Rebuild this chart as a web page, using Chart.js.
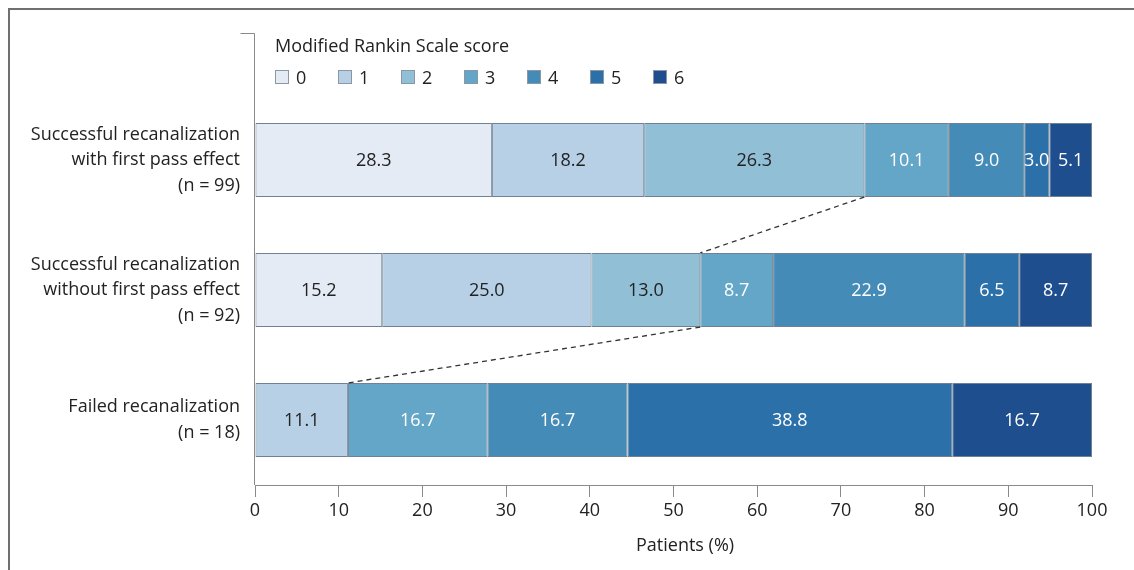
<!DOCTYPE html>
<html>
<head>
<meta charset="utf-8">
<script src="https://cdn.jsdelivr.net/npm/chart.js@4"></script>
<style>
  html, body { margin: 0; padding: 0; background: #fff; }
  body { width: 1134px; height: 570px; position: relative; overflow: hidden; font-family: "Open Sans", sans-serif; color: #222; }
  #frame { position: absolute; left: 8px; top: 8px; width: 1200px; height: 700px; border-left: 2px solid #707070; border-top: 2px solid #707070; }
  #chart-wrap { position: absolute; left: 0; top: 0; width: 1134px; height: 570px; }
  #legend { position: absolute; left: 275px; top: 32px; font-size: 18px; }
  #legend .title { height: 26px; line-height: 26px; }
  #legend .items { display: flex; margin-top: 7px; }
  #legend .item { width: 63px; display: flex; align-items: center; height: 24px; }
  #legend .box { width: 14px; height: 14px; border: 1px solid #8a98a6; margin-right: 7px; box-sizing: border-box; }
  #xtitle { position: absolute; left: 636px; top: 532px; font-size: 18px; }
</style>
</head>
<body>
<div id="frame"></div>
<div id="chart-wrap"><canvas id="chart" width="1134" height="570"></canvas></div>
<div id="legend"><div class="title">Modified Rankin Scale score</div><div class="items" id="legend-items"></div></div>
<div id="xtitle">Patients (%)</div>
<script>
// Modified Rankin Scale distribution by recanalization group

const groups = [
    ['Successful recanalization', 'with first pass effect', '(n = 99)'],
    ['Successful recanalization', 'without first pass effect', '(n = 92)'],
    ['Failed recanalization', '(n = 18)']
];

const mrsScores = ['0', '1', '2', '3', '4', '5', '6'];

// percent of patients per score, one entry per group
const mrs0 = [28.3, 15.2, 0];
const mrs1 = [18.2, 25.0, 11.1];
const mrs2 = [26.3, 13.0, 0];
const mrs3 = [10.1, 8.7, 16.7];
const mrs4 = [9.0, 22.9, 16.7];
const mrs5 = [3.0, 6.5, 38.8];
const mrs6 = [5.1, 8.7, 16.7];

const xTicks = [0, 10, 20, 30, 40, 50, 60, 70, 80, 90, 100];

const COLORS = ['#e4ebf5', '#b7d0e6', '#90bfd6', '#63a6c7', '#448bb7', '#2c70aa', '#1f4e8e'];
const LABEL_COLORS = ['#222', '#222', '#222', '#fff', '#fff', '#fff', '#fff'];
const FONT = '"Open Sans", sans-serif';

const series = [mrs0, mrs1, mrs2, mrs3, mrs4, mrs5, mrs6];

// html legend
const legendItems = document.getElementById('legend-items');
mrsScores.forEach((s, i) => {
    const item = document.createElement('div');
    item.className = 'item';
    item.innerHTML = `<span class="box" style="background:${COLORS[i]}"></span><span>${s}</span>`;
    legendItems.appendChild(item);
});

// value labels inside each segment
const valueLabels = {
    id: 'valueLabels',
    afterDatasetsDraw(chart) {
        const ctx = chart.ctx;
        ctx.save();
        ctx.font = `18px ${FONT}`;
        ctx.textAlign = 'center';
        ctx.textBaseline = 'middle';
        chart.data.datasets.forEach((ds, di) => {
            const meta = chart.getDatasetMeta(di);
            meta.data.forEach((bar, i) => {
                const v = ds.data[i];
                if (!v) return;
                ctx.fillStyle = LABEL_COLORS[di];
                ctx.fillText(v.toFixed(1), (bar.x + bar.base) / 2, bar.y + 1);
            });
        });
        ctx.restore();
    }
};

// dashed lines joining the mRS 0-2 boundary between rows, plus the y axis line
const extras = {
    id: 'extras',
    afterDraw(chart) {
        const ctx = chart.ctx;
        const area = chart.chartArea;
        const meta = chart.getDatasetMeta(2);
        ctx.save();
        ctx.strokeStyle = '#333';
        ctx.lineWidth = 1.3;
        ctx.setLineDash([5, 4]);
        for (let i = 0; i < meta.data.length - 1; i++) {
            const a = meta.data[i];
            const b = meta.data[i + 1];
            ctx.beginPath();
            ctx.moveTo(a.x, a.y + a.height / 2);
            ctx.lineTo(b.x, b.y - b.height / 2);
            ctx.stroke();
        }
        ctx.setLineDash([]);
        ctx.strokeStyle = '#8a8a8a';
        ctx.lineWidth = 1;
        const x = Math.round(area.left) - 0.5;
        ctx.beginPath();
        ctx.moveTo(x - 14, 33.5);
        ctx.lineTo(x, 33.5);
        ctx.lineTo(x, area.bottom);
        ctx.stroke();
        ctx.restore();
    }
};

new Chart(document.getElementById('chart'), {
    type: 'bar',
    data: {
        labels: groups,
        datasets: series.map((d, i) => ({
            label: mrsScores[i],
            data: d,
            backgroundColor: COLORS[i],
            borderColor: '#6f8192',
            borderWidth: 1,
            borderSkipped: false,
            barPercentage: 0.57,
            categoryPercentage: 1
        }))
    },
    options: {
        indexAxis: 'y',
        responsive: false,
        animation: false,
        layout: { padding: { top: 95, right: 42, bottom: 0, left: 0 } },
        plugins: {
            legend: { display: false },
            tooltip: { enabled: false }
        },
        scales: {
            x: {
                stacked: true,
                min: 0,
                max: 100,
                afterBuildTicks: s => { s.ticks = xTicks.map(v => ({ value: v })); },
                afterFit: s => { s.height = 85; },
                border: { color: '#8a8a8a' },
                grid: { drawOnChartArea: false, drawTicks: true, tickLength: 12, color: '#8a8a8a' },
                ticks: { color: '#222', font: { family: FONT, size: 18 }, padding: 3 }
            },
            y: {
                stacked: true,
                afterFit: s => { s.width = 255; },
                border: { display: false },
                grid: { display: false },
                ticks: { color: '#222', font: { family: FONT, size: 18, lineHeight: 1.42 }, padding: 7 }
            }
        }
    },
    plugins: [valueLabels, extras]
});
</script>
</body>
</html>
